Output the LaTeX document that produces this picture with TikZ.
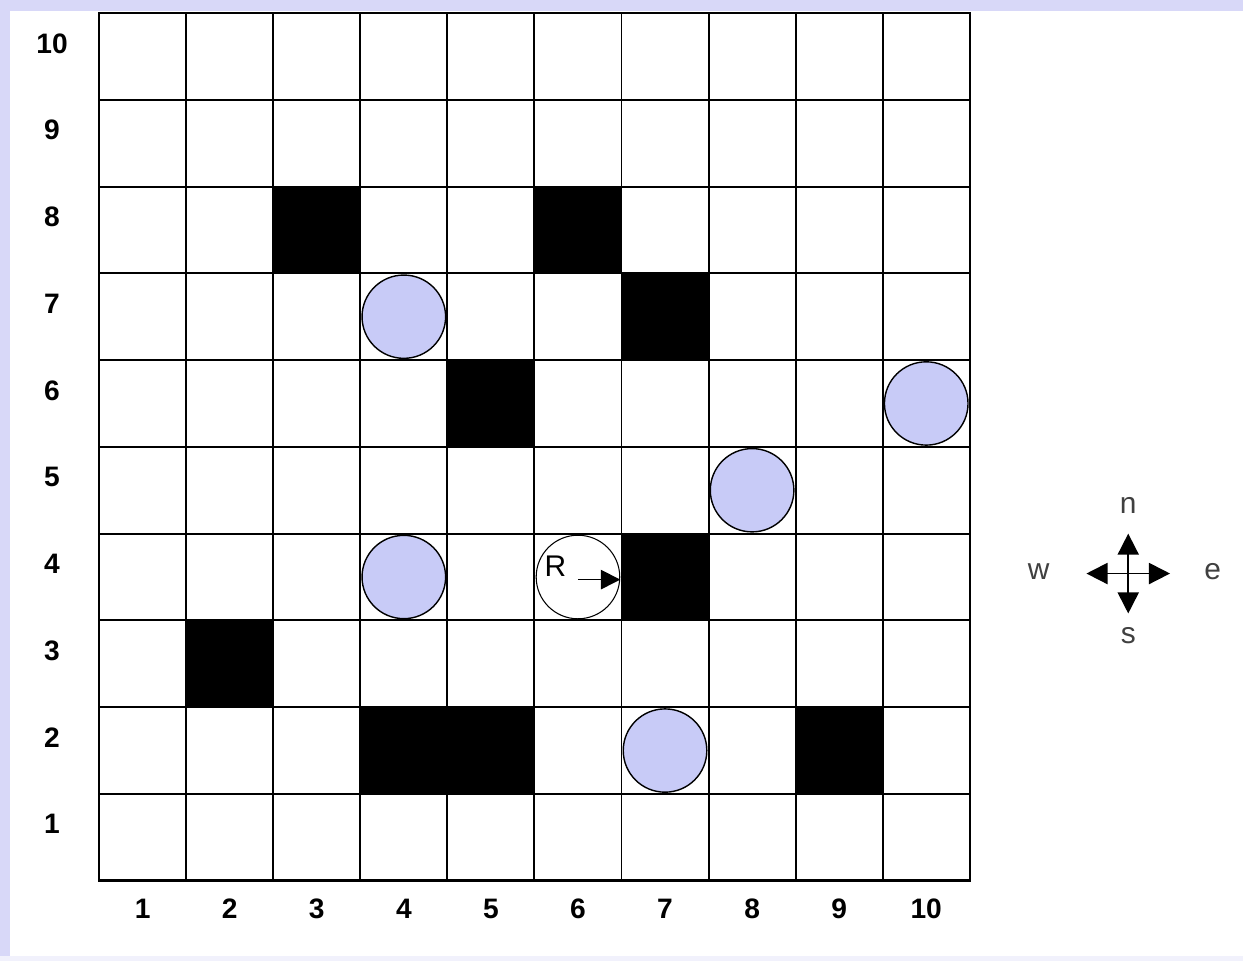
\documentclass[tikz,border=0pt]{standalone}
\usepackage{fontspec}
\setmainfont{Liberation Sans}
\usetikzlibrary{arrows.meta}
\definecolor{framebg}{HTML}{D8D8F8}
\definecolor{disc}{HTML}{C8CBF7}
\tikzset{
	num/.style={font=\fontsize{16}{18}\selectfont\bfseries},
	dir/.style={font=\fontsize{17}{19}\selectfont, text=black!75},
	head/.style={-{Triangle[length=12pt, width=12pt]}, line width=1pt},
}
\begin{document}
\begin{tikzpicture}[x=1.74cm, y=1.734cm]
		% frame
		\fill[framebg!35] (-1.138, -0.923) rectangle (13.138, 10.15);
		\fill[framebg] (-1.138, -0.865) rectangle (13.138, 10.15);
		\fill[white] (-1.023, -0.865) rectangle (13.138, 10.023);
		\useasboundingbox (-1.138, -0.923) rectangle (13.138, 10.15);
		% walls
		\foreach \c/\r in {3/8, 6/8, 7/7, 5/6, 7/4, 2/3, 4/2, 5/2, 9/2}{
			\fill[black] (\c - 1, \r - 1) rectangle (\c, \r);
		}
		% grid
		\foreach \i in {0, 1, ..., 10}{
			\draw[line width=1.1pt] (\i, 0) -- (\i, 10);
			\draw[line width=1.1pt] (0, \i) -- (10, \i);
		}
		\draw[line width=1.4pt] (0, 0) rectangle (10, 10);
		% labels
		\foreach \i in {1, 2, ..., 10}{
			\node[num] (row\i) at (-0.54, \i - 0.35) {\i};
			\node[num] (col\i) at (\i - 0.5, -0.32) {\i};
		}
		% discs
		\foreach \c/\r in {4/7, 10/6, 8/5, 4/4, 7/2}{
			\draw[fill=disc, line width=0.8pt] (\c - 0.5, \r - 0.5) circle[radius=0.48];
		}
		% robot
		\node[draw, fill=white, circle, line width=0.6pt, minimum size=1.67cm, inner sep=0pt] (robot) at (5.5, 3.5) {};
		\node[font=\fontsize{17}{19}\selectfont] (rlabel) at (5.24, 3.63) {R};
		\coordinate (tail) at (5.5, 3.47);
		\draw[-{Triangle[length=11pt, width=11pt]}, line width=0.9pt] (tail) -- (tail -| robot.east);
		% compass
		\coordinate (cmp) at (11.82, 3.54);
		\coordinate (cn) at (11.82, 4.0);
		\coordinate (cs) at (11.82, 3.08);
		\coordinate (cw) at (11.34, 3.54);
		\coordinate (ce) at (12.30, 3.54);
		\foreach \p in {cn, cs, cw, ce}{
			\draw[head] (cmp) -- (\p);
		}
		\node[dir] (n) at (11.82, 4.33) {n};
		\node[dir] (s) at (11.82, 2.82) {s};
		\node[dir] (w) at (10.79, 3.56) {w};
		\node[dir] (e) at (12.79, 3.56) {e};
	\end{tikzpicture}
\end{document}
